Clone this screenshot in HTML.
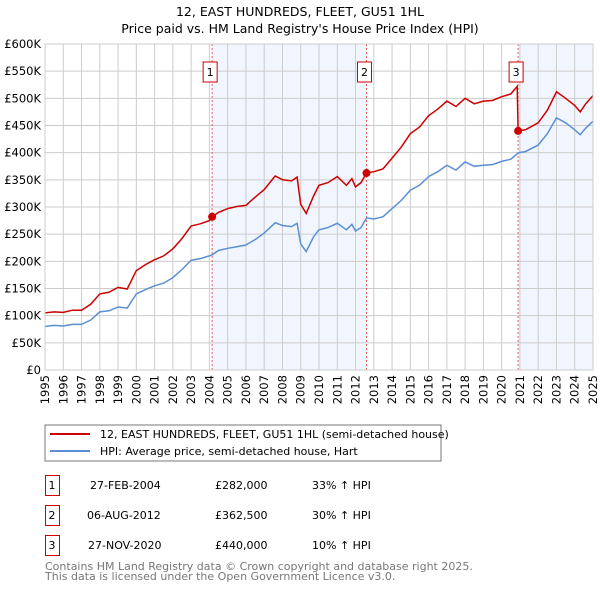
<!DOCTYPE html>
<html><head><meta charset="utf-8"><style>
body{margin:0;background:#fff;width:600px;height:590px;overflow:hidden;font-family:"DejaVu Sans","Liberation Sans",sans-serif;}
svg text{font-family:"DejaVu Sans","Liberation Sans",sans-serif;}
</style></head><body>
<svg id="chart" width="600" height="590" xmlns="http://www.w3.org/2000/svg">
<text x="300" y="16" text-anchor="middle" font-size="12.5">12, EAST HUNDREDS, FLEET, GU51 1HL</text>
<text x="300" y="33" text-anchor="middle" font-size="12.5">Price paid vs. HM Land Registry's House Price Index (HPI)</text>
<g id="plot"></g>
<g>
<rect x="45" y="425" width="396" height="36" fill="#fff" stroke="#777"/>
<line x1="50" y1="434" x2="90" y2="434" stroke="#cc0000" stroke-width="2"/>
<text x="100" y="438" font-size="11">12, EAST HUNDREDS, FLEET, GU51 1HL (semi-detached house)</text>
<line x1="50" y1="451" x2="90" y2="451" stroke="#5b8fd4" stroke-width="2"/>
<text x="100" y="455" font-size="11">HPI: Average price, semi-detached house, Hart</text>
</g>
<g font-size="11">
<rect x="45.5" y="475.5" width="14" height="20" fill="none" stroke="#cc0000"/><text x="52" y="489" text-anchor="middle">1</text>
<text x="90" y="489">27-FEB-2004</text><text x="215" y="489">£282,000</text><text x="312" y="489">33% ↑ HPI</text>
<rect x="45.5" y="505.5" width="14" height="20" fill="none" stroke="#cc0000"/><text x="52" y="519" text-anchor="middle">2</text>
<text x="87" y="519">06-AUG-2012</text><text x="215" y="519">£362,500</text><text x="312" y="519">30% ↑ HPI</text>
<rect x="45.5" y="535.5" width="14" height="20" fill="none" stroke="#cc0000"/><text x="52" y="549" text-anchor="middle">3</text>
<text x="88" y="549">27-NOV-2020</text><text x="215" y="549">£440,000</text><text x="312" y="549">10% ↑ HPI</text>
</g>
<text x="45" y="570" font-size="11" fill="#777">Contains HM Land Registry data © Crown copyright and database right 2025.</text>
<text x="45" y="580" font-size="11" fill="#777">This data is licensed under the Open Government Licence v3.0.</text>
</svg>
<script>
const years=[1995,1995.5,1996,1996.5,1997,1997.5,1998,1998.5,1999,1999.5,2000,2000.5,2001,2001.5,2002,2002.5,2003,2003.5,2004,2004.15,2004.5,2005,2005.5,2006,2006.5,2007,2007.6,2008,2008.5,2008.8,2009,2009.3,2009.7,2010,2010.5,2011,2011.5,2011.8,2012,2012.3,2012.6,2013,2013.5,2014,2014.5,2015,2015.5,2016,2016.5,2017,2017.5,2018,2018.5,2019,2019.5,2020,2020.5,2020.85,2020.9,2021.3,2022,2022.5,2023,2023.5,2024,2024.3,2024.6,2025];
const hpiValues=[80,82,81,84,84,92,107,109,116,114,140,148,155,160,170,185,202,205,210,212,220,224,227,230,240,252,271,266,264,270,232,218,245,258,262,270,258,268,256,262,280,278,282,297,312,331,340,356,365,377,368,383,375,377,378,384,388,398,400,402,414,435,464,455,442,433,445,458];
const priceValues=[105,107,106,110,110,121,140,143,152,149,183,194,203,210,223,242,265,269,275,282,290,297,301,303,318,332,357,350,348,355,305,288,320,340,345,356,340,352,337,345,362.5,365,370,390,410,435,447,468,480,495,485,500,490,495,496,503,508,522,440,442,455,478,512,500,487,475,490,505];
const yTicks=[0,50,100,150,200,250,300,350,400,450,500,550,600];
const yTickLabels=["£0","£50K","£100K","£150K","£200K","£250K","£300K","£350K","£400K","£450K","£500K","£550K","£600K"];
const saleYears=[2004.15,2012.6,2020.9];
const saleValues=[282,362.5,440];
const saleLabels=["1","2","3"];
const X0=45,X1=593,Y0=370,Y1=44;
const xs=v=>X0+(v-1995)/30*(X1-X0);
const ys=v=>Y0-v/600*(Y0-Y1);
const NS="http://www.w3.org/2000/svg";
const g=document.getElementById('plot');
function mk(t,a){const e=document.createElementNS(NS,t);for(const k in a)e.setAttribute(k,a[k]);g.appendChild(e);return e;}
// shading
let r=mk('rect',{x:xs(saleYears[0]),y:Y1,width:xs(saleYears[1])-xs(saleYears[0]),height:Y0-Y1,fill:'#eef2fc',opacity:0.8});


r=mk('rect',{x:xs(saleYears[2]),y:Y1,width:X1-xs(saleYears[2]),height:Y0-Y1,fill:'#eef2fc',opacity:0.8});


// grid
for(let i=0;i<yTicks.length;i++){
 const y=ys(yTicks[i]);
 let l=mk('line',{x1:X0,x2:X1,y1:y,y2:y,stroke:'#ccc','stroke-width':1});
 
 
 let t=mk('text',{x:X0-4,y:y+4,'text-anchor':'end','font-size':'11.5'});
 t.textContent=yTickLabels[i];
 
 
}
for(let yr=1995;yr<=2025;yr++){
 const x=xs(yr);
 let l=mk('line',{x1:x,x2:x,y1:Y1,y2:Y0,stroke:'#ccc','stroke-width':1});
 
 
 let t=mk('text',{x:0,y:0,'text-anchor':'end','font-size':'11.5',transform:`translate(${x+4},${Y0+5}) rotate(-90)`});
 t.textContent=String(yr);
 
 
}
// sale vlines
for(let i=0;i<saleYears.length;i++){
 const x=xs(saleYears[i]);
 let l=mk('line',{x1:x,x2:x,y1:Y1,y2:Y0,stroke:'#e06060','stroke-width':1,'stroke-dasharray':'2,2'});
 
 
 let b=mk('rect',{x:x-9,y:62,width:14,height:20,fill:'#fff',stroke:'#cc0000'});
 
 
 let t=mk('text',{x:x-2,y:76,'text-anchor':'middle','font-size':'11'});
 t.textContent=saleLabels[i];
 
 
}
function path(vals){return vals.map((v,i)=>(i?'L':'M')+xs(years[i]).toFixed(1)+','+ys(v).toFixed(1)).join('');}
let p=mk('path',{d:path(hpiValues),fill:'none',stroke:'#5b8fd4','stroke-width':1.5});


p=mk('path',{d:path(priceValues),fill:'none',stroke:'#cc0000','stroke-width':1.5});


for(let i=0;i<saleYears.length;i++){
 let c=mk('circle',{cx:xs(saleYears[i]),cy:ys(saleValues[i]),r:4,fill:'#cc0000'});
 
 
}
let ax=mk('rect',{x:X0,y:Y1,width:X1-X0,height:Y0-Y1,fill:'none',stroke:'#ccc'});


</script>
</body></html>
